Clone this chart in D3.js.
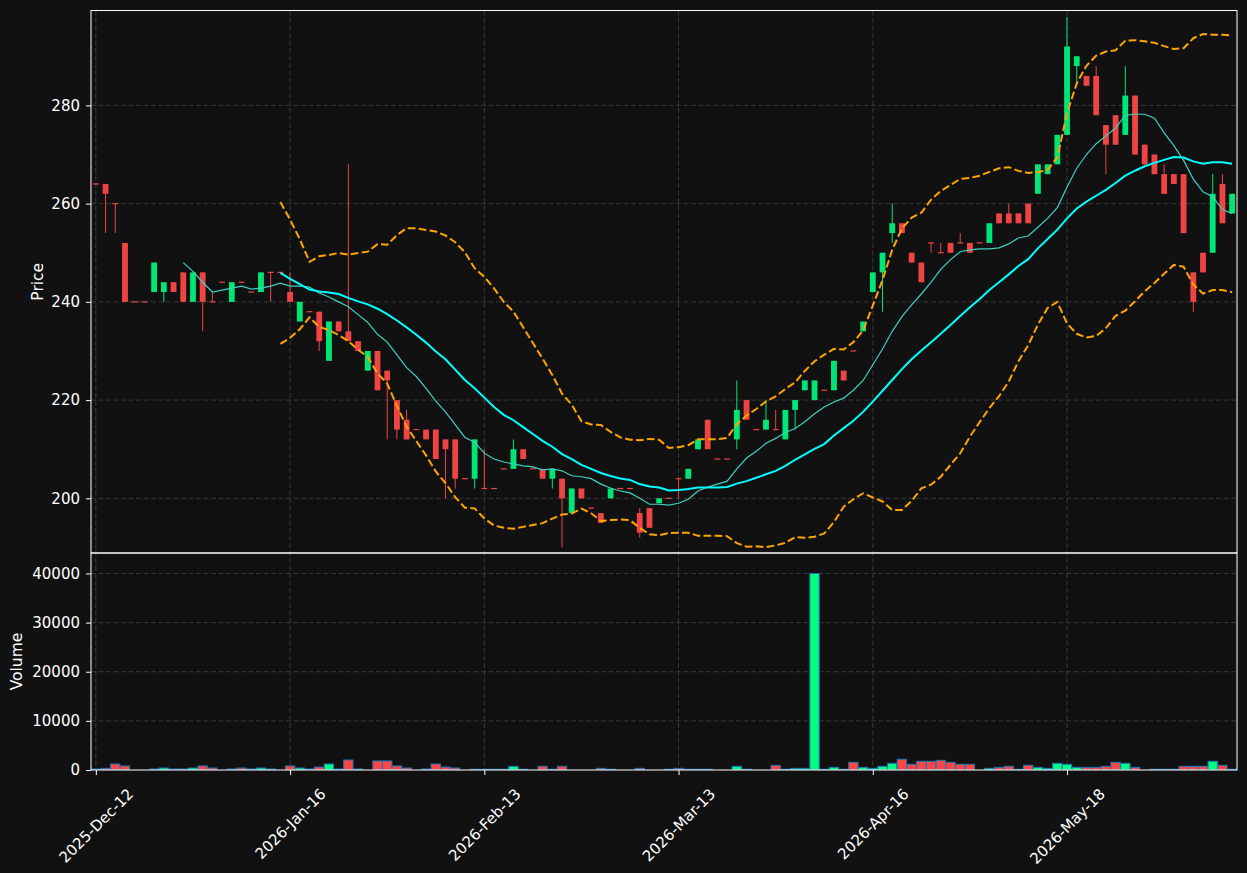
<!DOCTYPE html>
<html><head><meta charset="utf-8">
<script src="https://cdn.jsdelivr.net/npm/d3@7/dist/d3.min.js"></script>
<style>body{margin:0;background:#111111;} svg{display:block;font-family:"DejaVu Sans",sans-serif;}</style>
</head><body><svg id="c" width="1247" height="873"></svg>
<script>
// ---- data ----
const tickIndex  = [0, 20, 40, 60, 80, 100];
const tickLabels = ["2025-Dec-12","2026-Jan-16","2026-Feb-13","2026-Mar-13","2026-Apr-16","2026-May-18"];
const priceTicks  = [200, 220, 240, 260, 280];
const volumeTicks = [0, 10000, 20000, 30000, 40000];

const opens = [264,264,260,252,240,240,242,242,244,246, 240,246,240,244,240,244,242,242,246,246,
               242,236,238,238,228,236,234,232,226,230, 226,220,216,214,214,214,212,212,204,204,
               202,202,206,206,210,206,206,204,204,197, 202,198,197,200,202,202,197,198,199,200,
               204,204,210,216,208,208,212,220,214,214, 214,212,218,222,220,222,222,226,230,234,
               242,246,254,256,250,248,252,250,252,252, 252,252,252,258,258,258,260,262,266,268,
               274,288,286,286,276,278,274,282,272,270, 266,266,266,246,250,250,264,258];
const highs = [264,264,260,252,240,240,248,244,244,246, 246,246,242,244,244,244,242,246,246,246,
               246,240,238,238,236,236,268,232,230,230, 226,220,218,214,214,214,212,212,204,212,
               210,202,206,212,210,206,206,206,204,202, 202,198,197,202,202,202,198,198,200,200,
               204,206,212,216,208,208,224,220,214,220, 218,218,220,224,224,222,228,226,230,236,
               246,250,260,256,250,248,252,252,252,254, 252,252,256,258,260,258,260,268,268,274,
               298,290,286,288,276,278,288,282,272,270, 268,266,266,246,250,266,266,262];
const lows  = [264,254,254,240,240,240,242,240,242,240, 240,234,240,244,240,244,242,242,240,246,
               240,236,238,230,228,234,232,230,226,222, 212,212,212,214,212,208,200,202,204,202,
               202,202,206,206,208,206,204,202,190,197, 200,198,195,200,202,202,192,194,199,200,
               200,204,210,210,208,208,210,216,214,214, 214,212,214,222,220,222,222,224,230,234,
               242,238,252,254,248,244,250,250,250,252, 250,252,252,256,256,256,256,262,266,268,
               274,284,284,278,266,272,274,270,268,266, 262,264,254,238,246,250,256,258];
const closes = [264,262,260,240,240,240,248,244,242,240, 246,240,240,244,244,244,242,246,246,246,
               240,240,238,232,236,234,232,230,230,222, 224,214,212,214,212,208,210,204,204,212,
               202,202,206,210,208,206,204,206,200,202, 200,198,195,202,202,202,193,194,200,200,
               204,206,212,210,208,208,218,216,214,216, 214,218,220,224,224,222,228,224,230,236,
               246,250,256,254,248,244,252,250,250,252, 250,252,256,256,256,256,256,268,268,274,
               292,290,284,278,272,272,282,270,268,266, 262,264,254,240,246,262,256,262];
const volumes = [200,340,1220,820,0,0,200,400,200,200, 400,820,400,0,200,400,200,400,200,0,
               820,400,200,600,1220,200,2040,200,0,1840, 1840,820,400,0,200,1220,600,400,0,150,
               150,150,150,750,150,0,750,150,750,0, 0,0,340,150,0,0,340,0,0,150,
               340,150,150,150,0,0,750,150,0,0, 950,150,340,340,40000,150,540,150,1560,540,
               340,750,1360,2180,1160,1770,1770,1970,1560,1160, 1160,0,340,540,750,150,950,540,340,1360,
               1160,540,540,540,750,1560,1360,540,0,150, 150,150,750,750,750,1770,950,150];

// ---- derived indicators (computed from closes, as the original) ----
function sma(arr, p){ return arr.map((v,i)=> i<p-1 ? null : d3.mean(arr.slice(i-p+1,i+1))); }
function bands(arr, p, k){
  return arr.map((v,i)=>{
    if(i<p-1) return null;
    const w = arr.slice(i-p+1,i+1), m = d3.mean(w);
    const sd = Math.sqrt(d3.mean(w.map(x=>(x-m)*(x-m))));
    return {up:m+k*sd, lo:m-k*sd};
  });
}
const ma10 = sma(closes,10), ma20 = sma(closes,20), bb = bands(closes,20,2);

// ---- layout ----
const W=1247,H=873, L=91,R=1237, PT=10.5, PB=553, VT=553, VB=770;
const UP='#00e676', DOWN='#ef4444', VUP='#00ff80', VDOWN='#ff4545';
const svg = d3.select('#c');
svg.append('rect').attr('width',W).attr('height',H).attr('fill','#111111');
const n = closes.length;
const x  = d3.scaleLinear().domain([-0.5, n-0.5]).range([L,R]);
const yP = d3.scaleLinear().domain([188.87, 299.32]).range([PB,PT]);
const yV = d3.scaleLinear().domain([0, 44170]).range([VB,VT]);
const step = x(1)-x(0);

const defs = svg.append('defs');
defs.append('clipPath').attr('id','cp').append('rect').attr('x',L).attr('y',PT).attr('width',R-L).attr('height',PB-PT);
defs.append('clipPath').attr('id','cv').append('rect').attr('x',L).attr('y',VT).attr('width',R-L).attr('height',VB-VT);

// grid
const grid = svg.append('g').attr('stroke','#3a3a3a').attr('stroke-width',1).attr('stroke-dasharray','5,2.5');
grid.selectAll('.gp').data(priceTicks).join('line').attr('x1',L).attr('x2',R).attr('y1',d=>yP(d)).attr('y2',d=>yP(d));
grid.selectAll('.gv').data(volumeTicks.slice(1)).join('line').attr('x1',L).attr('x2',R).attr('y1',d=>yV(d)).attr('y2',d=>yV(d));
grid.selectAll('.gx').data(tickIndex).join('line').attr('x1',d=>x(d)).attr('x2',d=>x(d)).attr('y1',PT).attr('y2',VB);

// price marks
const gp = svg.append('g').attr('clip-path','url(#cp)');
const idx = d3.range(n);
const col = i => closes[i] > opens[i] ? UP : DOWN;
gp.selectAll('.wick').data(idx).join('line')
  .attr('x1',i=>x(i)).attr('x2',i=>x(i)).attr('y1',i=>yP(highs[i])).attr('y2',i=>yP(lows[i]))
  .attr('stroke',col).attr('stroke-width',1);
const bw = step*0.6;
gp.selectAll('.body').data(idx).join('rect')
  .attr('x',i=>x(i)-bw/2).attr('width',bw)
  .attr('y',i=>Math.min(yP(opens[i]),yP(closes[i])) - (Math.abs(yP(opens[i])-yP(closes[i]))<1.2?0.6:0))
  .attr('height',i=>Math.max(1.2,Math.abs(yP(opens[i])-yP(closes[i]))))
  .attr('fill',col);

const line = d3.line().defined(d=>d.v!=null).x(d=>x(d.i)).y(d=>yP(d.v));
gp.append('path').attr('d',line(ma10.map((v,i)=>({i,v})))).attr('fill','none').attr('stroke','#40d0c0').attr('stroke-width',1.2);
gp.append('path').attr('d',line(ma20.map((v,i)=>({i,v})))).attr('fill','none').attr('stroke','#00ffff').attr('stroke-width',2);
gp.append('path').attr('d',line(bb.map((v,i)=>({i,v:v?v.up:null})))).attr('fill','none').attr('stroke','#ffa500').attr('stroke-width',2).attr('stroke-dasharray','7.7,3.3');
gp.append('path').attr('d',line(bb.map((v,i)=>({i,v:v?v.lo:null})))).attr('fill','none').attr('stroke','#ffa500').attr('stroke-width',2).attr('stroke-dasharray','7.7,3.3');

// volume
const gv = svg.append('g').attr('clip-path','url(#cv)');
const vw = step*0.96;
gv.selectAll('.vol').data(idx.filter(i=>volumes[i]>0)).join('rect')
  .attr('x',i=>x(i)-vw/2).attr('width',vw)
  .attr('y',i=>yV(volumes[i])).attr('height',i=>VB-yV(volumes[i]))
  .attr('fill',i=>closes[i]>opens[i]?VUP:VDOWN).attr('stroke','#1f77b4').attr('stroke-width',1);

// frames
const fr = svg.append('g').attr('fill','none').attr('stroke','#ffffff').attr('stroke-width',1);
fr.append('rect').attr('x',L).attr('y',PT).attr('width',R-L).attr('height',PB-PT);
fr.append('rect').attr('x',L).attr('y',VT).attr('width',R-L).attr('height',VB-VT);

// axes
const fs = 15;
function styleAxis(g){
  g.select('.domain').remove();
  g.selectAll('.tick line').attr('stroke','#ffffff');
  g.selectAll('.tick text').attr('fill','#ffffff').style('font-size',fs+'px').style('font-family','DejaVu Sans');
}
svg.append('g').attr('transform',`translate(${L},0)`)
  .call(d3.axisLeft(yP).tickValues(priceTicks).tickSize(5).tickPadding(6).tickFormat(d3.format('d'))).call(styleAxis);
svg.append('g').attr('transform',`translate(${L},0)`)
  .call(d3.axisLeft(yV).tickValues(volumeTicks).tickSize(5).tickPadding(6).tickFormat(d3.format('d'))).call(styleAxis);
const xa = svg.append('g').attr('transform',`translate(0,${VB})`)
  .call(d3.axisBottom(x).tickValues(tickIndex).tickSize(5).tickFormat((d,i)=>tickLabels[i])).call(styleAxis);
xa.selectAll('.tick text').each(function(d){
  const t = d3.select(this);
  const w = this.getComputedTextLength();
  const px = 0.3536*(w + 10);
  t.attr('text-anchor','end').attr('dy',null).attr('y',null)
   .attr('transform',`translate(${px},25) rotate(-45)`);
});

svg.append('text').attr('transform',`translate(38,${(PT+PB)/2}) rotate(-90)`).attr('text-anchor','middle')
  .attr('dominant-baseline','middle').attr('fill','#ffffff').style('font-size','15.5px').text('Price');
svg.append('text').attr('transform',`translate(17,${(VT+VB)/2}) rotate(-90)`).attr('text-anchor','middle')
  .attr('dominant-baseline','middle').attr('fill','#ffffff').style('font-size','15.5px').text('Volume');
</script></body></html>
